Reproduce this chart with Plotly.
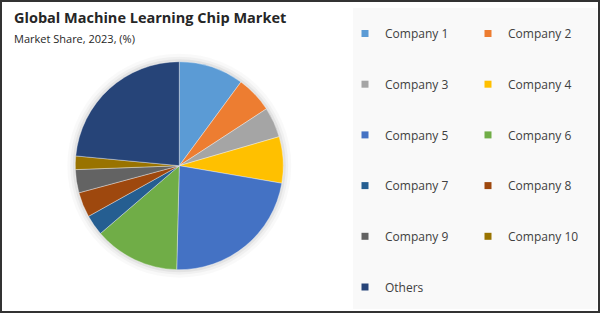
import plotly.graph_objects as go

labels = ["Company 1", "Company 2", "Company 3", "Company 4", "Company 5",
          "Company 6", "Company 7", "Company 8", "Company 9", "Company 10", "Others"]
shares = [10.1, 5.7, 4.7, 7.2, 22.7, 13.3, 3.2, 3.9, 3.6, 2.1, 23.5]
colors = ["#5B9BD5", "#ED7D31", "#A5A5A5", "#FFC000", "#4472C4", "#70AD47",
          "#255E91", "#9E480E", "#636363", "#997300", "#264478"]

W, H = 600, 313
def px(x):
    return x / W
def py(y):
    return 1 - y / H

cx, cy, r = 179.3, 165.7, 104

fig = go.Figure()
fig.add_trace(go.Pie(
    labels=labels, values=shares, sort=False, direction="clockwise", rotation=0,
    marker=dict(colors=colors, line=dict(color="rgba(255,255,255,0.6)", width=0.6)),
    textinfo="none", hoverinfo="label+percent", showlegend=False,
    domain=dict(x=[px(cx - r), px(cx + r)], y=[py(cy + r), py(cy - r)]),
))

# legend entries (two columns)
for i, (lab, col) in enumerate(zip(labels, colors)):
    fig.add_trace(go.Scatter(
        x=[None], y=[None], mode="markers", name=lab,
        marker=dict(symbol="square", size=7, color=col),
        legend="legend" if i % 2 == 0 else "legend2",
        legendgroup=lab, showlegend=True,
    ))

legend_common = dict(
    orientation="v", xanchor="left", yanchor="top", bgcolor="rgba(0,0,0,0)",
    font=dict(family="Open Sans", size=12, color="#404040"), tracegroupgap=31.7,
    traceorder="grouped", itemclick=False, itemdoubleclick=False,
)

shapes = [
    dict(type="rect", xref="paper", yref="paper", x0=px(2), x1=px(598), y0=py(311), y1=py(2),
         fillcolor="white", line=dict(width=0), layer="below"),
    dict(type="rect", xref="paper", yref="paper", x0=px(353), x1=px(597), y0=py(309), y1=py(8),
         fillcolor="#F9F9F9", line=dict(width=0), layer="below"),
]
for d, a in [(8, 0.025), (5, 0.035), (2.5, 0.05)]:
    shapes.append(dict(type="circle", xref="paper", yref="paper",
                       x0=px(cx - r - d), x1=px(cx + r + d), y0=py(cy + r + d), y1=py(cy - r - d),
                       fillcolor=f"rgba(0,0,0,{a})", line=dict(width=0), layer="below"))

fig.update_layout(
    width=W, height=H, margin=dict(l=0, r=0, t=0, b=0),
    paper_bgcolor="#333333", plot_bgcolor="rgba(0,0,0,0)",
    xaxis=dict(visible=False), yaxis=dict(visible=False),
    legend=dict(x=px(345), y=py(19), **legend_common),
    legend2=dict(x=px(468), y=py(19), **legend_common),
    shapes=shapes,
    annotations=[
        dict(text="<b>Global Machine Learning Chip Market</b>", xref="paper", yref="paper",
             x=px(12), y=py(17), xanchor="left", yanchor="middle", showarrow=False,
             font=dict(family="Open Sans", size=14.5, color="#262626")),
        dict(text="Market Share, 2023, (%)", xref="paper", yref="paper",
             x=px(12), y=py(38), xanchor="left", yanchor="middle", showarrow=False,
             font=dict(family="Open Sans", size=11, color="#262626")),
    ],
)

fig.write_html("out.html")
